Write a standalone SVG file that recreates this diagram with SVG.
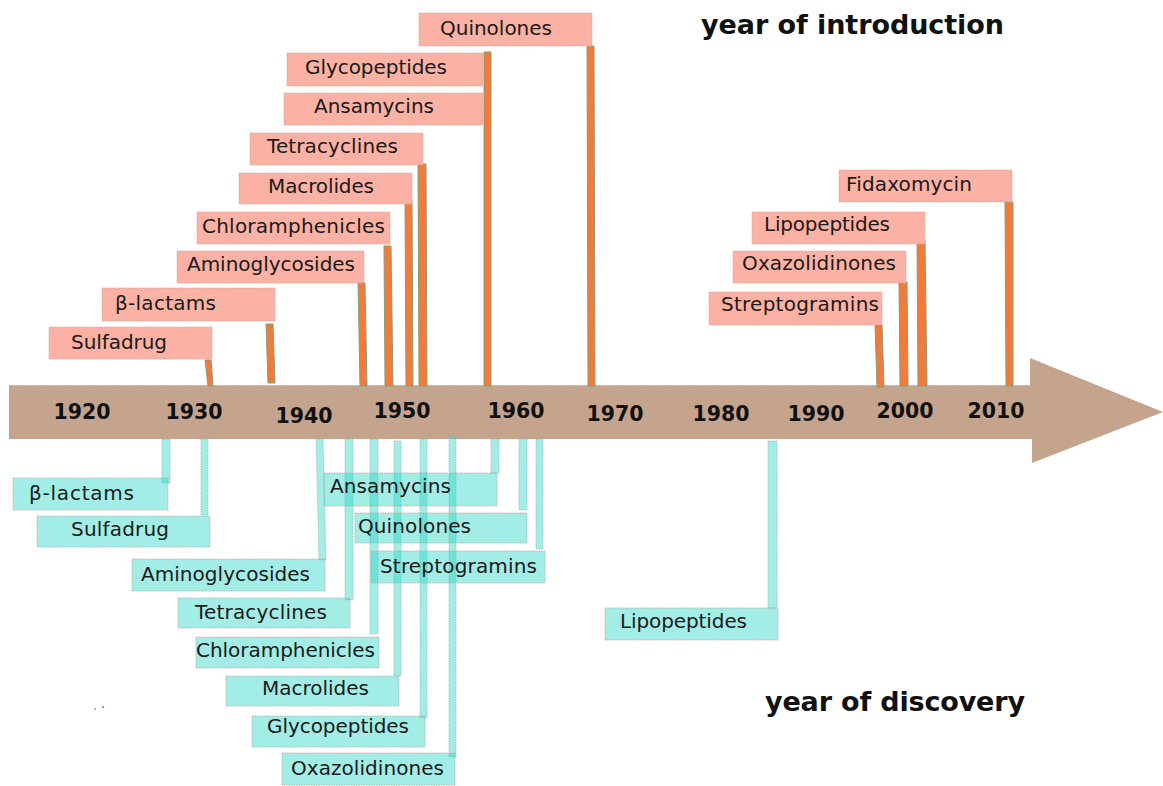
<svg xmlns="http://www.w3.org/2000/svg" width="1163" height="786" viewBox="0 0 1163 786">
<style>
.pk{fill:#FBB1A3;stroke:#D9A49A;stroke-width:0.8;stroke-dasharray:1.5 1}
.cy{fill:#35D8C9;fill-opacity:0.46;stroke:#B9A6A0;stroke-width:0.8;stroke-dasharray:1.5 1}
.or{fill:#F47A3A;stroke:#7FA07A;stroke-width:1}
.cl{fill:#35D8C9;fill-opacity:0.46;stroke:#9FB8B2;stroke-width:0.8;stroke-dasharray:1.5 1}
.lb{font-family:"DejaVu Sans","Liberation Sans",sans-serif;font-size:20px;fill:#1a1a1a}
.yr{font-family:"DejaVu Sans","Liberation Sans",sans-serif;font-size:20.5px;font-weight:bold;fill:#111;text-anchor:middle}
.tt{font-family:"DejaVu Sans","Liberation Sans",sans-serif;font-size:27px;font-weight:bold;fill:#111}
</style>
<rect width="1163" height="786" fill="#fff"/>
<g id="axis">
<path d="M9,385 H1030 L1030,358 L1163,412 L1032,463 L1032,439 H9 Z" fill="#C5A48E"/>
<line x1="9" y1="385.5" x2="1030" y2="385.5" stroke="#E6D6CC" stroke-width="0.8" stroke-dasharray="1.5 1.5"/>
<text class="yr" x="82" y="419">1920</text>
<text class="yr" x="194" y="419">1930</text>
<text class="yr" x="304" y="423">1940</text>
<text class="yr" x="402" y="418">1950</text>
<text class="yr" x="516" y="418">1960</text>
<text class="yr" x="615" y="421">1970</text>
<text class="yr" x="721" y="421">1980</text>
<text class="yr" x="816" y="421">1990</text>
<text class="yr" x="905" y="418">2000</text>
<text class="yr" x="996" y="418">2010</text>
</g>
<g id="connectors">
<polygon class="or" points="205,360 211,360 213,386 208,386"/>
<polygon class="or" points="266,324 273,324 275,383 268,383"/>
<polygon class="or" points="358,283 365,283 367,386 360,386"/>
<polygon class="or" points="384,246 391,246 393,386 385,386"/>
<polygon class="or" points="405,201 412,201 413,386 406,386"/>
<polygon class="or" points="418,164 426,164 427,386 419,386"/>
<polygon class="or" points="484,52 491,52 491,386 484,386"/>
<polygon class="or" points="587,46 594,46 595,386 588,386"/>
<polygon class="or" points="875,325 882,325 884,387 877,387"/>
<polygon class="or" points="899,282 907,282 908,386 900,386"/>
<polygon class="or" points="917,240 925,240 927,386 918,386"/>
<polygon class="or" points="1005,202 1013,202 1013,386 1006,386"/>
<rect class="cl" x="162" y="439" width="8" height="44"/>
<rect class="cl" x="201" y="439" width="7" height="76"/>
<polygon class="cl" points="316,439 323,439 326,560 319,560"/>
<rect class="cl" x="345" y="439" width="8" height="161"/>
<rect class="cl" x="370" y="439" width="8" height="195"/>
<rect class="cl" x="394" y="441" width="7" height="235"/>
<rect class="cl" x="420" y="439" width="7" height="279"/>
<rect class="cl" x="449" y="436" width="7" height="321"/>
<rect class="cl" x="491" y="439" width="8" height="34"/>
<rect class="cl" x="519" y="439" width="8" height="71"/>
<rect class="cl" x="536" y="439" width="7" height="110"/>
<rect class="cl" x="768" y="441" width="9" height="167"/>
</g>
<g id="intro-quinolones"><rect class="pk" x="419" y="13" width="173" height="33"/><text class="lb" x="440" y="35" textLength="112">Quinolones</text></g>
<g id="intro-glycopeptides"><rect class="pk" x="287" y="53" width="196" height="33"/><text class="lb" x="305" y="74" textLength="142">Glycopeptides</text></g>
<g id="intro-ansamycins"><rect class="pk" x="284" y="93" width="199" height="32"/><text class="lb" x="314" y="113" textLength="120">Ansamycins</text></g>
<g id="intro-tetracyclines"><rect class="pk" x="250" y="133" width="173" height="32"/><text class="lb" x="267" y="153" textLength="131">Tetracyclines</text></g>
<g id="intro-macrolides"><rect class="pk" x="239" y="173" width="173" height="31"/><text class="lb" x="268" y="193" textLength="106">Macrolides</text></g>
<g id="intro-chloramphenicles"><rect class="pk" x="197" y="212" width="193" height="32"/><text class="lb" x="202" y="233" textLength="183">Chloramphenicles</text></g>
<g id="intro-aminoglycosides"><rect class="pk" x="177" y="251" width="187" height="32"/><text class="lb" x="187" y="271" textLength="168">Aminoglycosides</text></g>
<g id="intro-betalactams"><rect class="pk" x="102" y="288" width="173" height="33"/><text class="lb" x="115" y="310" textLength="101">β-lactams</text></g>
<g id="intro-sulfadrug"><rect class="pk" x="49" y="327" width="163" height="32"/><text class="lb" x="71" y="349" textLength="96">Sulfadrug</text></g>
<g id="intro-fidaxomycin"><rect class="pk" x="839" y="170" width="173" height="32"/><text class="lb" x="846" y="191" textLength="126">Fidaxomycin</text></g>
<g id="intro-lipopeptides"><rect class="pk" x="752" y="212" width="173" height="32"/><text class="lb" x="764" y="231" textLength="126">Lipopeptides</text></g>
<g id="intro-oxazolidinones"><rect class="pk" x="733" y="251" width="173" height="32"/><text class="lb" x="742" y="270" textLength="154">Oxazolidinones</text></g>
<g id="intro-streptogramins"><rect class="pk" x="709" y="292" width="173" height="33"/><text class="lb" x="721" y="311" textLength="158">Streptogramins</text></g>
<g id="disc-betalactams"><rect class="cy" x="13" y="478" width="155" height="32"/><text class="lb" x="29" y="500" textLength="105">β-lactams</text></g>
<g id="disc-sulfadrug"><rect class="cy" x="37" y="516" width="173" height="31"/><text class="lb" x="71" y="536" textLength="98">Sulfadrug</text></g>
<g id="disc-aminoglycosides"><rect class="cy" x="132" y="559" width="193" height="32"/><text class="lb" x="141" y="581" textLength="169">Aminoglycosides</text></g>
<g id="disc-tetracyclines"><rect class="cy" x="178" y="598" width="172" height="30"/><text class="lb" x="195" y="619" textLength="132">Tetracyclines</text></g>
<g id="disc-chloramphenicles"><rect class="cy" x="196" y="637" width="183" height="31"/><text class="lb" x="196" y="657" textLength="179">Chloramphenicles</text></g>
<g id="disc-macrolides"><rect class="cy" x="226" y="676" width="173" height="30"/><text class="lb" x="262" y="695" textLength="107">Macrolides</text></g>
<g id="disc-glycopeptides"><rect class="cy" x="252" y="716" width="173" height="31"/><text class="lb" x="267" y="733" textLength="142">Glycopeptides</text></g>
<g id="disc-oxazolidinones"><rect class="cy" x="282" y="753" width="173" height="32"/><text class="lb" x="291" y="775" textLength="153">Oxazolidinones</text></g>
<g id="disc-ansamycins"><rect class="cy" x="324" y="473" width="173" height="33"/><text class="lb" x="330" y="493" textLength="121">Ansamycins</text></g>
<g id="disc-quinolones"><rect class="cy" x="355" y="513" width="172" height="30"/><text class="lb" x="358" y="533" textLength="113">Quinolones</text></g>
<g id="disc-streptogramins"><rect class="cy" x="371" y="551" width="174" height="32"/><text class="lb" x="380" y="573" textLength="157">Streptogramins</text></g>
<g id="disc-lipopeptides"><rect class="cy" x="605" y="608" width="173" height="32"/><text class="lb" x="620" y="628" textLength="127">Lipopeptides</text></g>
<g id="titles">
<text class="tt" x="701" y="34" textLength="303">year of introduction</text>
<text class="tt" x="765" y="711" textLength="260">year of discovery</text>
</g>
<g id="specks" fill="#999"><circle cx="95" cy="709" r="1"/><circle cx="103" cy="707" r="1.2"/></g>
</svg>
